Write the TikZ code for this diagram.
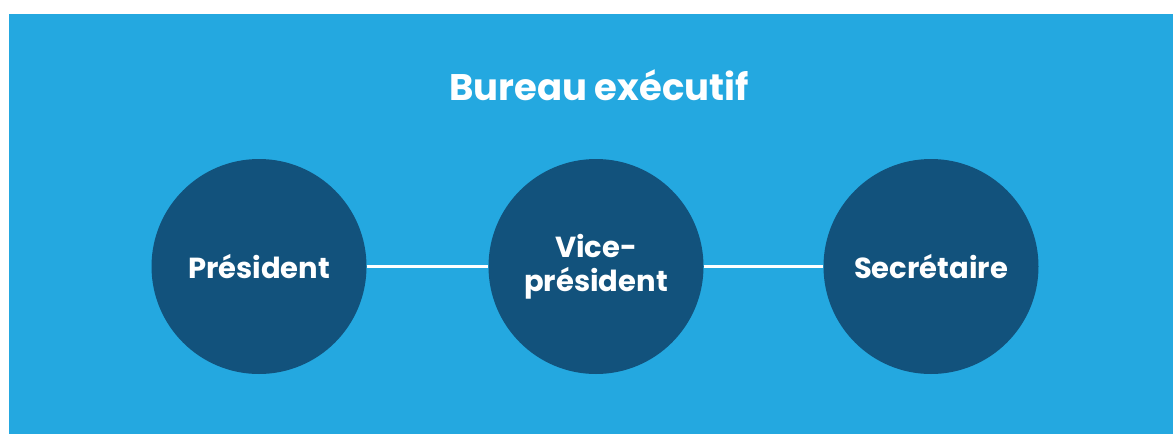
\documentclass[tikz,border=0pt]{standalone}
\usepackage{fontspec}
\setmainfont{Poppins}
\usepackage{tikz}
\usetikzlibrary{positioning}
\definecolor{fondbleu}{RGB}{36,168,224}
\definecolor{bleunuit}{RGB}{18,82,124}

\begin{document}
\begin{tikzpicture}[role/.style={circle, fill=bleunuit, minimum size=215pt, inner sep=0pt, text=white, font=\bfseries\fontsize{29}{34}\selectfont, align=center}, lien/.style={draw=white, line width=2.5pt}]
		\useasboundingbox (0pt, 0pt) rectangle (1173pt, -434pt);
		\fill[fondbleu] (9pt, -14pt) rectangle (1173pt, -434pt);
		\draw (599.0pt, -85.0pt)node[text=white, font=\bfseries\fontsize{37}{44}\selectfont](titre){Bureau exécutif};
		\draw (259.0pt, -266.5pt)node[role](pres){Président};
		\draw (596.0pt, -266.5pt)node[role](vice){Vice-\\président};
		\draw (931.0pt, -266.5pt)node[role](secr){Secrétaire};
		\path[lien] (pres) edge (vice);
		\path[lien] (vice) edge (secr);
		\end{tikzpicture}
\end{document}
